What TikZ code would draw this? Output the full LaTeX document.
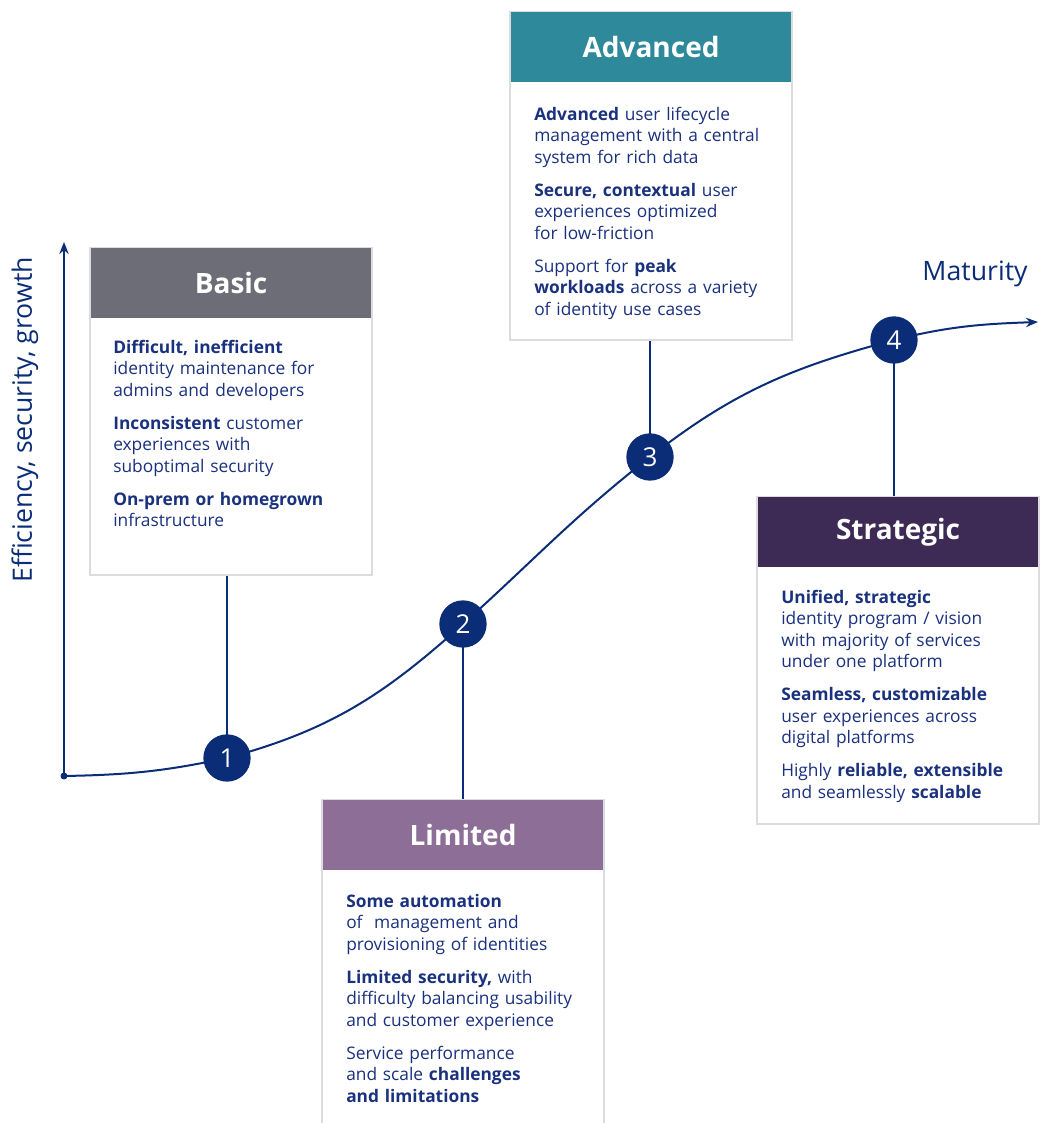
\documentclass[tikz,border=0pt]{standalone}
\usepackage{fontspec}
\setmainfont{Open Sans}
\usetikzlibrary{arrows.meta}

\definecolor{navy}{HTML}{0B2D78}
\definecolor{ink}{HTML}{1A317E}
\definecolor{boxgray}{HTML}{DCDCDE}
\definecolor{basicgray}{HTML}{6D6D78}
\definecolor{limitedpurple}{HTML}{8C6E96}
\definecolor{advancedteal}{HTML}{2E8A9B}
\definecolor{strategicplum}{HTML}{3D2B56}

\begin{document}
\begin{tikzpicture}[x=0.75pt,y=0.75pt,
  stagebox/.style={draw=boxgray, line width=1.6pt, fill=white, anchor=north west,
    inner sep=0pt, minimum width=211.5pt, minimum height=#1},
  stagehead/.style={fill=#1, text=white, anchor=north, inner sep=0pt,
    minimum width=210pt, minimum height=52pt,
    font=\bfseries\fontsize{21}{24}\selectfont},
  stagetext/.style={anchor=north west, inner sep=0pt, text=ink, align=left,
    text width=200pt, font=\fontsize{13}{16.1}\selectfont},
  stepdot/.style={circle, fill=navy, text=white, inner sep=0pt, minimum size=35.5pt,
    font=\fontsize{19.5}{22}\selectfont},
  link/.style={draw=navy, line width=1.3pt},
  curve/.style={draw=navy, line width=1.5pt},
  axislabel/.style={text=navy, font=\fontsize{20}{23}\selectfont, inner sep=0pt}
]
\useasboundingbox (0,0) rectangle (1046,1123);

% axes
\coordinate (O) at (64,347);
\coordinate (ytop) at (64,881);
\draw[curve, -{Stealth[length=9pt,width=7pt]}] (O) -- (ytop);
\fill[navy] (O) circle (3.5);

% step positions on the maturity curve
\coordinate (p1) at (227,365);
\coordinate (p2) at (463,499);
\coordinate (p3) at (650,666);
\coordinate (p4) at (894,783);
\coordinate (mend) at (1038,801);

\draw[curve, -{Stealth[length=9pt,width=7pt]}]
  (O) to[out=1,in=192] (p1)
      to[out=15,in=222] (p2)
      to[out=42,in=218] (p3)
      to[out=38,in=195] (p4)
      to[out=14,in=182] (mend);

\node[axislabel, rotate=90] (ylab) at (25,703) {Efficiency, security, growth};
\node[axislabel] (xlab) at (975,849) {Maturity};

% stage boxes
\node[stagebox=245.25pt] (basic) at (89,876) {};
\node[stagehead=basicgray] (basich) at ([yshift=-0.8pt]basic.north) {Basic};
\node[stagetext] (basict) at (113,783) {%
\textbf{Difficult, inefficient}\\identity maintenance for\\admins and developers\\[8.6pt]
\textbf{Inconsistent} customer\\experiences with\\suboptimal security\\[8.6pt]
\textbf{On-prem or homegrown}\\infrastructure};

\node[stagebox=246pt] (adv) at (509,1112) {};
\node[stagehead=advancedteal] (advh) at ([yshift=-0.8pt]adv.north) {Advanced};
\node[stagetext] (advt) at (534,1016) {%
\textbf{Advanced} user lifecycle\\management with a central\\system for rich data\\[8.6pt]
\textbf{Secure, contextual} user\\experiences optimized\\for low-friction\\[8.6pt]
Support for \textbf{peak}\\\textbf{workloads} across a variety\\of identity use cases};

\node[stagebox=260pt] (lim) at (321,324) {};
\node[stagehead=limitedpurple] (limh) at ([yshift=-0.8pt]lim.north) {Limited};
\node[stagetext] (limt) at (346,229) {%
\textbf{Some automation}\\of\ \ management and\\provisioning of identities\\[8.6pt]
\textbf{Limited security,} with\\difficulty balancing usability\\and customer experience\\[8.6pt]
Service performance\\and scale \textbf{challenges}\\\textbf{and limitations}};

\node[stagebox=245.25pt] (strat) at (756,627) {};
\node[stagehead=strategicplum] (strath) at ([yshift=-0.8pt]strat.north) {Strategic};
\node[stagetext] (stratt) at (781,533) {%
\textbf{Unified, strategic}\\identity program / vision\\with majority of services\\under one platform\\[8.6pt]
\textbf{Seamless, customizable}\\user experiences across\\digital platforms\\[8.6pt]
Highly \textbf{reliable, extensible}\\and seamlessly \textbf{scalable}};

% connectors from boxes to steps
\draw[link] (p1 |- basic.south) -- (p1);
\draw[link] (p3 |- adv.south) -- (p3);
\draw[link] (p2) -- (p2 |- lim.north);
\draw[link] (p4) -- (p4 |- strat.north);

% step markers
\node[stepdot] (s1) at (p1) {1};
\node[stepdot] (s2) at (p2) {2};
\node[stepdot] (s3) at (p3) {3};
\node[stepdot] (s4) at (p4) {4};
\end{tikzpicture}
\end{document}
